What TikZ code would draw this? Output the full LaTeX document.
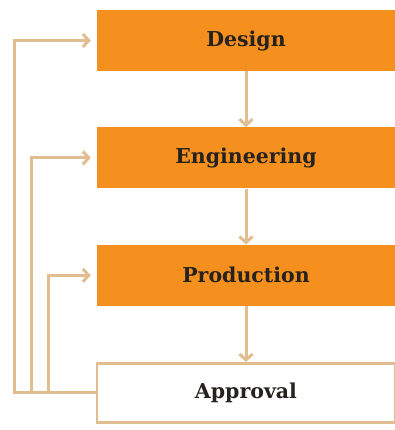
\documentclass[tikz,border=0pt]{standalone}
\usepackage{fontspec}
\setmainfont{DejaVu Serif}
\usetikzlibrary{positioning,arrows.meta}
\definecolor{boxorange}{RGB}{245,143,30}
\definecolor{linktan}{RGB}{224,190,145}
\definecolor{txtdark}{RGB}{38,34,30}

\begin{document}
\begin{tikzpicture}[
    x=1pt, y=-1pt,
    node distance=56pt,
    stage/.style={rectangle, fill=boxorange, text=txtdark, font=\bfseries\fontsize{20.5}{24}\selectfont, minimum width=298pt, minimum height=61pt, inner sep=0pt},
    final/.style={stage, fill=white, draw=linktan, line width=2.5pt, minimum height=59pt},
    arrow/.style={-{Straight Barb[length=6pt,width=13pt]}, linktan, line width=3pt}
]
\useasboundingbox (0,0) rectangle (395,430);

% Stages
\node[stage] (design) at (246,40.5) {Design};
\node[stage, below=of design] (engineering) {Engineering};
\node[stage, below=of engineering] (production) {Production};
\node[final, below=of production] (approval) {Approval};

% Arrows down
\draw[arrow] (design) -- (engineering);
\draw[arrow] (engineering) -- (production);
\draw[arrow] (production) -- (approval);

% Feedback from approval
\draw[arrow] (approval.west) -- ++(-81,0) |- ([xshift=-6pt]design.west);
\draw[arrow] (approval.west) -- ++(-64,0) |- ([xshift=-6pt]engineering.west);
\draw[arrow] (approval.west) -- ++(-47,0) |- ([xshift=-6pt]production.west);

\end{tikzpicture}
\end{document}
